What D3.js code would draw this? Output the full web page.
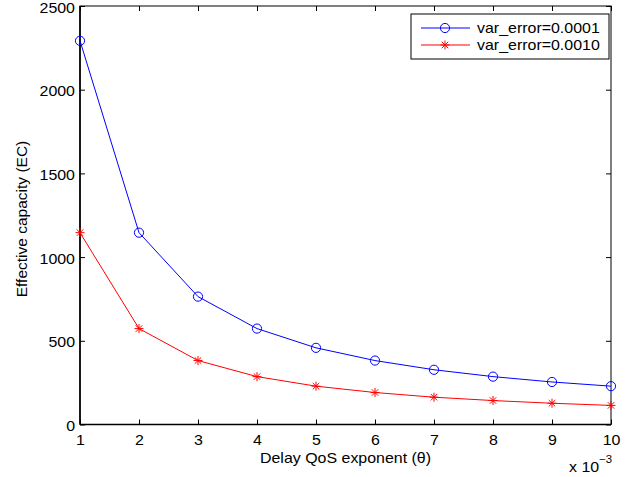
<!DOCTYPE html>
<html>
<head>
<meta charset="utf-8">
<script src="https://cdn.jsdelivr.net/npm/d3@7"></script>
<style>
  body { margin: 0; background: #fff; }
  text { font-family: "Liberation Sans", Arial, sans-serif; }
</style>
</head>
<body>
<div id="chart"></div>
<script>
const width = 631, height = 477;
const margin = {left: 80, right: 20, top: 6, bottom: 52};

// data
const theta = [1, 2, 3, 4, 5, 6, 7, 8, 9, 10];
const ecLow = [2292, 1146, 764, 573, 458, 382, 327, 286, 254, 229];   // var_error=0.0001
const ecHigh = [1146, 573, 382, 286, 229, 191, 163, 143, 127, 114];   // var_error=0.0010
const seriesNames = ["var_error=0.0001", "var_error=0.0010"];
const xTicks = [1, 2, 3, 4, 5, 6, 7, 8, 9, 10];
const yTicks = [0, 500, 1000, 1500, 2000, 2500];

const fs = 14, sx = 1.14;  // the reference text is a bit wider than Arial

const svg = d3.select("#chart").append("svg")
  .attr("width", width)
  .attr("height", height);

const x = d3.scaleLinear().domain([1, 10]).range([margin.left, width - margin.right]);
const y = d3.scaleLinear().domain([0, 2500]).range([height - margin.bottom - 0.5, margin.top]);

const x0 = x.range()[0], x1 = x.range()[1];
const y0 = y.range()[0], y1 = y.range()[1];

// turn x/y of a text into a translate + horizontal stretch
function stretch(sel) {
  sel.each(function () {
    const t = d3.select(this);
    const tx = +t.attr("x") || 0, ty = +t.attr("y") || 0;
    t.attr("x", 0).attr("y", 0)
      .attr("transform", `translate(${tx},${ty}) scale(${sx},1)`);
  });
}

// box
svg.append("rect")
  .attr("x", x0).attr("y", y1)
  .attr("width", x1 - x0).attr("height", y0 - y1)
  .attr("fill", "none").attr("stroke", "#000").attr("stroke-width", 1);
svg.append("line").attr("x1", x0).attr("x2", x0).attr("y1", y1).attr("y2", y0)
  .attr("stroke", "#000").attr("stroke-width", 1.6);
svg.append("line").attr("x1", x0).attr("x2", x1).attr("y1", y0).attr("y2", y0)
  .attr("stroke", "#000").attr("stroke-width", 1.6);

// axes with inward ticks
const xAxis = svg.append("g").attr("transform", `translate(0,${y0})`)
  .call(d3.axisBottom(x).tickValues(xTicks).tickSize(-5).tickPadding(10.5).tickFormat(d3.format("d")));
const xTop = svg.append("g").attr("transform", `translate(0,${y1})`)
  .call(d3.axisTop(x).tickValues(xTicks).tickSize(-5).tickFormat(""));
const yAxis = svg.append("g").attr("transform", `translate(${x0},0)`)
  .call(d3.axisLeft(y).tickValues(yTicks).tickSize(-5).tickPadding(5).tickFormat(d3.format("d")));
const yRight = svg.append("g").attr("transform", `translate(${x1},0)`)
  .call(d3.axisRight(y).tickValues(yTicks).tickSize(-5).tickFormat(""));

[xAxis, xTop, yAxis, yRight].forEach(g => {
  g.select(".domain").remove();
  g.selectAll(".tick line").attr("stroke", "#000");
  g.selectAll("text").attr("fill", "#000").style("font-size", fs + "px")
    .style("font-family", "'Liberation Sans', Arial, sans-serif");
});
yAxis.selectAll("text").attr("dy", "0.44em");
stretch(xAxis.selectAll("text"));
stretch(yAxis.selectAll("text"));

// axis labels
svg.append("text")
  .attr("x", (x0 + x1) / 2).attr("y", 463)
  .attr("text-anchor", "middle").style("font-size", fs + "px")
  .text("Delay QoS exponent (θ)")
  .call(stretch);

svg.append("text")
  .attr("transform", `translate(27,219) rotate(-90)`)
  .attr("text-anchor", "middle").style("font-size", "15.5px")
  .text("Effective capacity (EC)");

const mult = svg.append("text").attr("x", 569).attr("y", 472).style("font-size", fs + "px");
mult.append("tspan").text("x 10");
mult.append("tspan").attr("dy", -9).style("font-size", "10px").text("−3");
mult.call(stretch);

// series
const line = d3.line().x(d => x(d[0])).y(d => y(d[1]));
const s1 = theta.map((t, i) => [t, ecLow[i]]);
const s2 = theta.map((t, i) => [t, ecHigh[i]]);

function drawCircle(g, cx, cy, color) {
  g.append("circle").attr("cx", cx).attr("cy", cy).attr("r", 4.6)
    .attr("fill", "none").attr("stroke", color).attr("stroke-width", 1);
}
function drawStar(g, cx, cy, color) {
  const r = 4.5, d = r * 0.72;
  const segs = [[-r, 0, r, 0], [0, -r, 0, r], [-d, -d, d, d], [-d, d, d, -d]];
  segs.forEach(s => g.append("line")
    .attr("x1", cx + s[0]).attr("y1", cy + s[1]).attr("x2", cx + s[2]).attr("y2", cy + s[3])
    .attr("stroke", color).attr("stroke-width", 1));
}

const plot = svg.append("g");
plot.append("path").datum(s1).attr("d", line).attr("fill", "none").attr("stroke", "#0000ff").attr("stroke-width", 1);
plot.append("path").datum(s2).attr("d", line).attr("fill", "none").attr("stroke", "#ff0000").attr("stroke-width", 1);
s1.forEach(d => drawCircle(plot, x(d[0]), y(d[1]), "#0000ff"));
s2.forEach(d => drawStar(plot, x(d[0]), y(d[1]), "#ff0000"));

// legend
const leg = svg.append("g");
leg.append("rect").attr("x", 411).attr("y", 14).attr("width", 198).attr("height", 45)
  .attr("fill", "#fff").attr("stroke", "#000").attr("stroke-width", 1);
const rows = [
  {name: seriesNames[0], color: "#0000ff", mark: drawCircle, cy: 28},
  {name: seriesNames[1], color: "#ff0000", mark: drawStar, cy: 45}
];
rows.forEach(r => {
  leg.append("line").attr("x1", 421).attr("x2", 470).attr("y1", r.cy).attr("y2", r.cy)
    .attr("stroke", r.color).attr("stroke-width", 1);
  r.mark(leg, 445, r.cy, r.color);
  leg.append("text").attr("x", 477).attr("y", r.cy + 5).style("font-size", fs + "px")
    .text(r.name).call(stretch);
});
</script>
</body>
</html>
